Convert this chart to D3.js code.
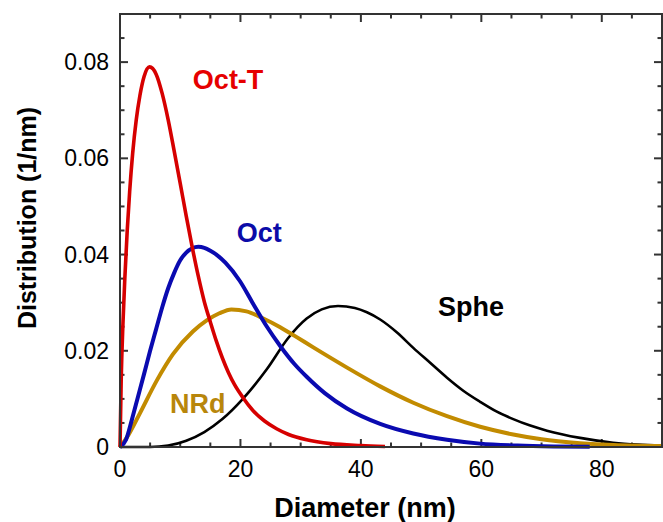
<!DOCTYPE html>
<html>
<head>
<meta charset="utf-8">
<script src="https://cdn.jsdelivr.net/npm/d3@7"></script>
<style>
  body { margin: 0; background: #fff; }
  text { font-family: "Liberation Sans", Arial, sans-serif; }
</style>
</head>
<body>
<script>
// Values
let xTicks = [0, 20, 40, 60, 80];
let yTicks = [0, 0.02, 0.04, 0.06, 0.08];
let yTickLabels = ["0", "0.02", "0.04", "0.06", "0.08"];

let octTD = [0, 0.2, 0.5, 0.8, 1.2, 1.6, 2.1, 2.7, 3.3, 4.0, 4.9, 6.0, 7.0, 8.0, 9.0, 10.0, 11.0, 12.0, 13.0, 14.0, 15.0, 16.0, 17.0, 18.0, 19.0, 20.4, 22, 24, 26, 28, 31, 35, 40, 44];
let octTV = [0, 0.014, 0.026, 0.035, 0.045, 0.053, 0.061, 0.068, 0.073, 0.077, 0.079, 0.0775, 0.0735, 0.068, 0.0615, 0.0548, 0.048, 0.0415, 0.0355, 0.0302, 0.026, 0.022, 0.0185, 0.0155, 0.013, 0.0103, 0.0077, 0.0054, 0.0038, 0.0026, 0.0015, 0.0007, 0.0003, 0.0001];

let octD = [0, 1, 2, 3, 4, 5, 6, 7, 8, 9, 10, 11, 12, 13, 14, 15, 16, 17.5, 19.9, 22, 24.4, 26.6, 29, 31, 34, 37.7, 43.2, 48.7, 54.3, 59.8, 66, 72, 78];
let octV = [0, 0.0015, 0.0058, 0.0105, 0.0152, 0.0200, 0.0245, 0.0290, 0.0330, 0.0362, 0.0388, 0.0404, 0.0413, 0.0416, 0.0414, 0.0408, 0.0400, 0.0383, 0.0345, 0.0300, 0.0250, 0.0210, 0.0172, 0.0146, 0.0112, 0.0080, 0.0048, 0.0028, 0.0015, 0.0007, 0.0003, 0.00012, 0.00005];

let nrdD = [0, 1.4, 3.3, 6.1, 8.8, 12.1, 14.4, 16.5, 18.5, 21, 23.8, 26.6, 29, 32.1, 37.7, 43.2, 48.7, 54.3, 59.8, 65.3, 70, 76.4, 82, 90];
let nrdV = [0, 0.0025, 0.0070, 0.0138, 0.0193, 0.0240, 0.0263, 0.0278, 0.0286, 0.0282, 0.0267, 0.0249, 0.0231, 0.0207, 0.0165, 0.0126, 0.0092, 0.0064, 0.0042, 0.0026, 0.0016, 0.0008, 0.0004, 0.0002];

let spheD = [0, 5, 8, 11, 14, 17, 20.4, 24.4, 27.9, 31, 33.5, 36.2, 39, 41, 43.2, 46, 48.7, 51.5, 54.3, 57, 59.8, 62.5, 65.3, 68, 70.9, 76.4, 81.9, 86, 90];
let spheV = [0, 0, 0.0003, 0.0013, 0.0031, 0.0058, 0.0100, 0.0162, 0.0226, 0.0267, 0.0286, 0.0293, 0.0289, 0.0280, 0.0265, 0.0238, 0.0206, 0.0175, 0.0144, 0.0117, 0.0094, 0.0074, 0.0058, 0.0045, 0.0034, 0.0019, 0.0009, 0.0005, 0.0003];

let svgWidth = 663, svgHeight = 522;
let margin = { top: 14, right: 1, bottom: 75, left: 120 };
let width = svgWidth - margin.left - margin.right;
let height = svgHeight - margin.top - margin.bottom;

let svg = d3.select("body").append("svg")
    .attr("width", svgWidth)
    .attr("height", svgHeight);

let chartGroup = svg.append("g")
    .attr("transform", `translate(${margin.left}, ${margin.top})`);

let xScale = d3.scaleLinear().domain([0, 90]).range([0, width]);
let yScale = d3.scaleLinear().domain([0, 0.09]).range([height, 0]);

// minor + major ticks, pointing inward, on all four sides
let xMinor = d3.range(0, 90.1, 5);
let yMinor = d3.range(0, 0.0901, 0.005);
let axisColor = "#333";

function tickLen(isMajor) { return isMajor ? 8 : 4.5; }

xMinor.forEach(v => {
    let major = Math.abs(v % 20) < 1e-6;
    let x = xScale(v);
    chartGroup.append("line").attr("x1", x).attr("x2", x)
        .attr("y1", height).attr("y2", height - tickLen(major))
        .attr("stroke", axisColor).attr("stroke-width", 2);
    chartGroup.append("line").attr("x1", x).attr("x2", x)
        .attr("y1", 0).attr("y2", tickLen(major))
        .attr("stroke", axisColor).attr("stroke-width", 2);
});

yMinor.forEach(v => {
    let major = Math.abs(Math.round(v / 0.005) % 4) === 0;
    let y = yScale(v);
    chartGroup.append("line").attr("x1", 0).attr("x2", tickLen(major))
        .attr("y1", y).attr("y2", y)
        .attr("stroke", axisColor).attr("stroke-width", 2);
    chartGroup.append("line").attr("x1", width).attr("x2", width - tickLen(major))
        .attr("y1", y).attr("y2", y)
        .attr("stroke", axisColor).attr("stroke-width", 2);
});

// tick labels
chartGroup.selectAll(".xlab").data(xTicks).enter().append("text")
    .attr("x", d => xScale(d))
    .attr("y", height + 30)
    .attr("text-anchor", "middle")
    .attr("font-size", 23)
    .text(d => d);

chartGroup.selectAll(".ylab").data(yTicks).enter().append("text")
    .attr("x", -11)
    .attr("y", d => yScale(d) + 8)
    .attr("text-anchor", "end")
    .attr("font-size", 23)
    .text((d, i) => yTickLabels[i]);

// curves
let line = d3.line()
    .x(d => xScale(d[0]))
    .y(d => yScale(d[1]))
    .curve(d3.curveMonotoneX);

let series = [
    { d: spheD, v: spheV, color: "#000000", w: 2.6 },
    { d: nrdD, v: nrdV, color: "#c28b00", w: 4 },
    { d: octD, v: octV, color: "#0a0ab0", w: 4 },
    { d: octTD, v: octTV, color: "#d60000", w: 3.6 }
];

series.forEach(s => {
    chartGroup.append("path")
        .datum(d3.zip(s.d, s.v))
        .attr("d", line)
        .attr("fill", "none")
        .attr("stroke", s.color)
        .attr("stroke-width", s.w)
        .attr("stroke-linejoin", "round");
});

// frame
chartGroup.append("rect")
    .attr("x", 0).attr("y", 0)
    .attr("width", width).attr("height", height)
    .attr("fill", "none")
    .attr("stroke", axisColor)
    .attr("stroke-width", 2);

// series labels
let labels = [
    { t: "Oct-T", x: 12.1, y: 0.0744, c: "#e60000" },
    { t: "Oct", x: 19.4, y: 0.0426, c: "#0b0ba8" },
    { t: "Sphe", x: 52.8, y: 0.0272, c: "#000000" },
    { t: "NRd", x: 8.3, y: 0.0071, c: "#b8860b" }
];

chartGroup.selectAll(".slab").data(labels).enter().append("text")
    .attr("x", d => xScale(d.x))
    .attr("y", d => yScale(d.y))
    .attr("fill", d => d.c)
    .attr("font-size", 27)
    .attr("font-weight", "bold")
    .text(d => d.t);

// axis titles
svg.append("text")
    .attr("x", 365)
    .attr("y", 517)
    .attr("text-anchor", "middle")
    .attr("font-size", 27)
    .attr("font-weight", "bold")
    .text("Diameter (nm)");

svg.append("text")
    .attr("transform", "translate(36, 218) rotate(-90)")
    .attr("text-anchor", "middle")
    .attr("font-size", 25)
    .attr("font-weight", "bold")
    .text("Distribution (1/nm)");
</script>
</body>
</html>
